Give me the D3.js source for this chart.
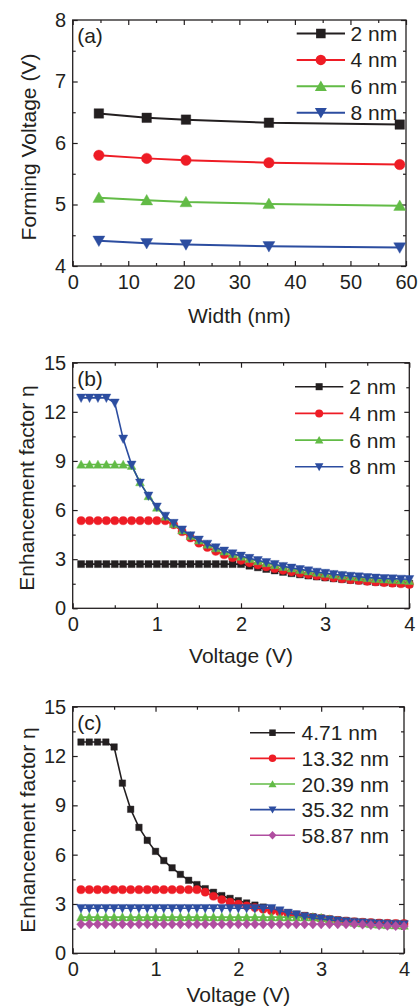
<!DOCTYPE html>
<html>
<head>
<meta charset="utf-8">
<script src="https://cdn.jsdelivr.net/npm/d3@7/dist/d3.min.js"></script>
<style>
  html, body { margin: 0; padding: 0; background: #fff; }
  svg { display: block; }
  text { font-family: "Liberation Sans", Arial, sans-serif; fill: #231f20; }
</style>
</head>
<body>
<svg id="chart" width="420" height="1008"></svg>
<script>
// ---------- data ----------
// (a) forming voltage versus filament width for four thicknesses
const widths = [4.71, 13.32, 20.39, 35.32, 58.87];
const thicknessLabels = ["2 nm", "4 nm", "6 nm", "8 nm"];
const forming2nm = [6.48, 6.41, 6.38, 6.33, 6.30];
const forming4nm = [5.80, 5.75, 5.72, 5.68, 5.65];
const forming6nm = [5.11, 5.07, 5.04, 5.01, 4.98];
const forming8nm = [4.41, 4.37, 4.35, 4.32, 4.30];

// (b), (c) enhancement factor versus applied voltage
const voltage = [0.1, 0.2, 0.3, 0.4, 0.5, 0.6, 0.7, 0.8, 0.9, 1.0,
                 1.1, 1.2, 1.3, 1.4, 1.5, 1.6, 1.7, 1.8, 1.9, 2.0,
                 2.1, 2.2, 2.3, 2.4, 2.5, 2.6, 2.7, 2.8, 2.9, 3.0,
                 3.1, 3.2, 3.3, 3.4, 3.5, 3.6, 3.7, 3.8, 3.9, 4.0];

// (b) different thicknesses
const etaT2 = [2.7, 2.7, 2.7, 2.7, 2.7, 2.7, 2.7, 2.7, 2.7, 2.7,
               2.7, 2.7, 2.7, 2.7, 2.7, 2.7, 2.7, 2.7, 2.7, 2.7,
               2.6, 2.5, 2.4, 2.31, 2.22, 2.14, 2.07, 2.0, 1.94, 1.88,
               1.83, 1.78, 1.73, 1.69, 1.65, 1.61, 1.58, 1.55, 1.52, 1.5];
const etaT4 = [5.35, 5.35, 5.35, 5.35, 5.35, 5.35, 5.35, 5.35, 5.35, 5.35,
               5.35, 5.1, 4.68, 4.3, 3.98, 3.72, 3.48, 3.27, 3.09, 2.93,
               2.78, 2.65, 2.53, 2.42, 2.32, 2.23, 2.14, 2.06, 1.99, 1.92,
               1.86, 1.8, 1.75, 1.7, 1.65, 1.61, 1.57, 1.53, 1.5, 1.46];
const etaT6 = [8.78, 8.78, 8.78, 8.78, 8.78, 8.78, 8.7, 7.7, 6.85, 6.15,
               5.6, 5.15, 4.76, 4.42, 4.14, 3.89, 3.67, 3.47, 3.3, 3.15,
               3.01, 2.88, 2.76, 2.64, 2.53, 2.43, 2.34, 2.26, 2.18, 2.11,
               2.05, 1.99, 1.94, 1.89, 1.84, 1.8, 1.76, 1.73, 1.7, 1.67];
const etaT8 = [12.85, 12.85, 12.85, 12.85, 12.55, 10.35, 8.76, 7.66, 6.87, 6.2,
               5.64, 5.2, 4.8, 4.44, 4.18, 3.93, 3.71, 3.51, 3.34, 3.2,
               3.06, 2.93, 2.81, 2.69, 2.57, 2.47, 2.38, 2.3, 2.22, 2.15,
               2.08, 2.02, 1.97, 1.93, 1.89, 1.86, 1.83, 1.81, 1.79, 1.77];

// (c) different widths
const widthLabels = ["4.71 nm", "13.32 nm", "20.39 nm", "35.32 nm", "58.87 nm"];
const etaW471 = [12.85, 12.85, 12.85, 12.85, 12.55, 10.35, 8.76, 7.66, 6.87, 6.2,
                 5.64, 5.2, 4.8, 4.44, 4.18, 3.93, 3.71, 3.51, 3.34, 3.2,
                 3.06, 2.93, 2.81, 2.69, 2.57, 2.47, 2.38, 2.3, 2.22, 2.15,
                 2.09, 2.03, 1.99, 1.95, 1.91, 1.89, 1.86, 1.84, 1.83, 1.82];
const etaW1332 = [3.87, 3.87, 3.87, 3.87, 3.87, 3.87, 3.87, 3.87, 3.87, 3.87,
                  3.87, 3.87, 3.87, 3.87, 3.87, 3.72, 3.47, 3.26, 3.11, 2.99,
                  2.88, 2.78, 2.68, 2.58, 2.49, 2.4, 2.32, 2.24, 2.17, 2.11,
                  2.05, 2.0, 1.96, 1.92, 1.89, 1.86, 1.84, 1.82, 1.81, 1.8];
const etaW2039 = [2.2, 2.2, 2.2, 2.2, 2.2, 2.2, 2.2, 2.2, 2.2, 2.2,
                  2.2, 2.2, 2.2, 2.2, 2.2, 2.2, 2.2, 2.2, 2.2, 2.2,
                  2.2, 2.2, 2.2, 2.2, 2.2, 2.2, 2.2, 2.2, 2.2, 2.15,
                  2.06, 1.98, 1.92, 1.87, 1.83, 1.79, 1.76, 1.73, 1.71, 1.69];
const etaW3532 = [2.74, 2.74, 2.74, 2.74, 2.74, 2.74, 2.74, 2.74, 2.74, 2.74,
                  2.74, 2.74, 2.74, 2.74, 2.74, 2.74, 2.74, 2.74, 2.74, 2.74,
                  2.74, 2.74, 2.74, 2.74, 2.6, 2.45, 2.35, 2.24, 2.16, 2.09,
                  2.03, 1.98, 1.93, 1.89, 1.86, 1.83, 1.8, 1.78, 1.76, 1.75];
const etaW5887 = [1.77, 1.77, 1.77, 1.77, 1.77, 1.77, 1.77, 1.77, 1.77, 1.77,
                  1.77, 1.77, 1.77, 1.77, 1.77, 1.77, 1.77, 1.77, 1.77, 1.77,
                  1.77, 1.77, 1.77, 1.77, 1.77, 1.77, 1.77, 1.77, 1.77, 1.77,
                  1.77, 1.77, 1.77, 1.77, 1.75, 1.72, 1.7, 1.68, 1.66, 1.65];

// axis ticks
const ticksAx = [0, 10, 20, 30, 40, 50, 60];
const ticksAy = [4, 5, 6, 7, 8];
const ticksVx = [0, 1, 2, 3, 4];
const ticksEy = [0, 3, 6, 9, 12, 15];

// ---------- styles ----------
const COL = { black: "#231f20", red: "#ee1c25", green: "#62bb46", blue: "#2c4da0", magenta: "#b04ea0" };

function markerPath(shape, w, h) {
  const a = w / 2, b = h / 2;
  switch (shape) {
    case "square": return `M${-a},${-a}h${w}v${w}h${-w}Z`;
    case "circle": return `M${a},0A${a},${a} 0 1,1 ${-a},0A${a},${a} 0 1,1 ${a},0Z`;
    case "up": return `M0,${-0.55 * h}L${a},${0.45 * h}L${-a},${0.45 * h}Z`;
    case "down": return `M0,${0.55 * h}L${a},${-0.45 * h}L${-a},${-0.45 * h}Z`;
    case "diamond": return `M0,${-b}L${a},0L0,${b}L${-a},0Z`;
  }
}

const svg = d3.select("#chart");
svg.append("rect").attr("width", 420).attr("height", 1008).attr("fill", "#fff");

function range2(a, b, step) { const out = []; for (let v = a; v <= b + 1e-9; v += step) out.push(+v.toFixed(4)); return out; }

function drawPanel(p) {
  const g = svg.append("g");
  const x = d3.scaleLinear().domain(p.xDomain).range([p.left, p.right]);
  const y = d3.scaleLinear().domain(p.yDomain).range([p.bottom, p.top]);

  const minorX = range2(p.xDomain[0], p.xDomain[1], p.xMinor).filter(v => !p.xTicks.includes(v));
  const minorY = range2(p.yDomain[0], p.yDomain[1], p.yMinor).filter(v => !p.yTicks.includes(v));

  const styleAxis = sel => {
    sel.select(".domain").remove();
    sel.selectAll("line").attr("stroke", "#231f20").attr("stroke-width", 1.2);
  };
  const styleLabels = sel => sel.selectAll("text").attr("font-size", 20).attr("fill", "#231f20")
    .attr("font-family", "Liberation Sans, Arial, sans-serif");

  // bottom
  g.append("g").attr("transform", `translate(0,${p.bottom})`)
    .call(d3.axisBottom(x).tickValues(p.xTicks).tickSize(-5).tickPadding(9).tickFormat(d3.format("d")))
    .call(styleAxis).call(styleLabels);
  g.append("g").attr("transform", `translate(0,${p.bottom})`)
    .call(d3.axisBottom(x).tickValues(minorX).tickSize(-3).tickFormat(""))
    .call(styleAxis);
  // top
  g.append("g").attr("transform", `translate(0,${p.top})`)
    .call(d3.axisTop(x).tickValues(p.xTicks).tickSize(-5).tickFormat(""))
    .call(styleAxis);
  g.append("g").attr("transform", `translate(0,${p.top})`)
    .call(d3.axisTop(x).tickValues(minorX).tickSize(-3).tickFormat(""))
    .call(styleAxis);
  // left
  g.append("g").attr("transform", `translate(${p.left},0)`)
    .call(d3.axisLeft(y).tickValues(p.yTicks).tickSize(-5).tickPadding(6.5).tickFormat(d3.format("d")))
    .call(styleAxis).call(styleLabels);
  g.append("g").attr("transform", `translate(${p.left},0)`)
    .call(d3.axisLeft(y).tickValues(minorY).tickSize(-3).tickFormat(""))
    .call(styleAxis);
  // right
  g.append("g").attr("transform", `translate(${p.right},0)`)
    .call(d3.axisRight(y).tickValues(p.yTicks).tickSize(-5).tickFormat(""))
    .call(styleAxis);
  g.append("g").attr("transform", `translate(${p.right},0)`)
    .call(d3.axisRight(y).tickValues(minorY).tickSize(-3).tickFormat(""))
    .call(styleAxis);

  // frame
  g.append("rect").attr("x", p.left).attr("y", p.top)
    .attr("width", p.right - p.left).attr("height", p.bottom - p.top)
    .attr("fill", "none").attr("stroke", "#231f20").attr("stroke-width", 1.3);

  // series: connecting line plus markers
  const line = d3.line().x(d => x(d[0])).y(d => y(d[1]));
  p.series.forEach(s => {
    const pts = p.xValues.map((v, i) => [v, s.values[i]]);
    const sg = g.append("g");
    sg.append("path").attr("d", line(pts)).attr("fill", "none")
      .attr("stroke", s.color).attr("stroke-width", p.lineWidth);
    sg.selectAll("path.m").data(pts).join("path").attr("class", "m")
      .attr("transform", d => `translate(${x(d[0])},${y(d[1])})`)
      .attr("d", markerPath(s.shape, s.w, s.h))
      .attr("fill", s.color).attr("stroke", s.color).attr("stroke-width", 0.4);
  });

  // legend
  p.series.forEach((s, i) => {
    const ly = p.legend.y0 + i * p.legend.dy;
    g.append("line").attr("x1", p.legend.x1).attr("x2", p.legend.x2)
      .attr("y1", ly).attr("y2", ly).attr("stroke", s.color).attr("stroke-width", p.lineWidth);
    g.append("path").attr("transform", `translate(${(p.legend.x1 + p.legend.x2) / 2},${ly})`)
      .attr("d", markerPath(s.shape, s.lw, s.lh)).attr("fill", s.color);
    g.append("text").attr("x", p.legend.tx).attr("y", ly).attr("dy", "0.36em")
      .attr("font-size", 21).text(s.label);
  });

  // panel tag
  g.append("text").attr("x", p.left + 4.5).attr("y", p.tagY).attr("font-size", 21).text(p.tag);

  // axis titles
  g.append("text").attr("x", (p.left + p.right) / 2).attr("y", p.bottom + p.xTitleOff)
    .attr("text-anchor", "middle").attr("font-size", 21).text(p.xTitle);
  g.append("text").attr("transform", `translate(${p.yTitleX},${(p.top + p.bottom) / 2 + p.yTitleShift}) rotate(-90)`)
    .attr("text-anchor", "middle").attr("font-size", 21).text(p.yTitle);
}

// (a)
drawPanel({
  left: 72.7, right: 406, top: 20, bottom: 266,
  xDomain: [0, 60], yDomain: [4, 8], xTicks: ticksAx, yTicks: ticksAy, xMinor: 5, yMinor: 0.5,
  xValues: widths, lineWidth: 2,
  series: [
    { label: thicknessLabels[0], values: forming2nm, color: COL.black, shape: "square", w: 9.5, h: 9.5, lw: 9.5, lh: 9.5 },
    { label: thicknessLabels[1], values: forming4nm, color: COL.red, shape: "circle", w: 10.5, h: 10.5, lw: 10.5, lh: 10.5 },
    { label: thicknessLabels[2], values: forming6nm, color: COL.green, shape: "up", w: 12, h: 10.5, lw: 12, lh: 10.5 },
    { label: thicknessLabels[3], values: forming8nm, color: COL.blue, shape: "down", w: 12, h: 10.5, lw: 12, lh: 10.5 }
  ],
  legend: { x1: 296.7, x2: 345, tx: 350.5, y0: 33.5, dy: 26.4 },
  tag: "(a)", tagY: 42.5,
  xTitle: "Width (nm)", xTitleOff: 56.5,
  yTitle: "Forming Voltage (V)", yTitleX: 35.5, yTitleShift: 4
});

// (b)
drawPanel({
  left: 72.7, right: 409.3, top: 362.7, bottom: 608.3,
  xDomain: [0, 4], yDomain: [0, 15], xTicks: ticksVx, yTicks: ticksEy, xMinor: 0.5, yMinor: 1.5,
  xValues: voltage, lineWidth: 1.6,
  series: [
    { label: thicknessLabels[0], values: etaT2, color: COL.black, shape: "square", w: 7, h: 7, lw: 7, lh: 7 },
    { label: thicknessLabels[1], values: etaT4, color: COL.red, shape: "circle", w: 8.2, h: 8.2, lw: 8, lh: 8 },
    { label: thicknessLabels[2], values: etaT6, color: COL.green, shape: "up", w: 8.8, h: 8, lw: 8.5, lh: 7.5 },
    { label: thicknessLabels[3], values: etaT8, color: COL.blue, shape: "down", w: 9, h: 8.5, lw: 8.5, lh: 8 }
  ],
  legend: { x1: 295, x2: 343.3, tx: 349.3, y0: 386.7, dy: 26.7 },
  tag: "(b)", tagY: 386,
  xTitle: "Voltage (V)", xTitleOff: 55,
  yTitle: "Enhancement factor η", yTitleX: 33.5, yTitleShift: 2.5
});

// (c)
drawPanel({
  left: 72.7, right: 404, top: 706.7, bottom: 953.3,
  xDomain: [0, 4], yDomain: [0, 15], xTicks: ticksVx, yTicks: ticksEy, xMinor: 0.5, yMinor: 1.5,
  xValues: voltage, lineWidth: 1.6,
  series: [
    { label: widthLabels[0], values: etaW471, color: COL.black, shape: "square", w: 6.5, h: 6.5, lw: 6.5, lh: 6.5 },
    { label: widthLabels[1], values: etaW1332, color: COL.red, shape: "circle", w: 8.2, h: 8.2, lw: 7.5, lh: 7.5 },
    { label: widthLabels[2], values: etaW2039, color: COL.green, shape: "up", w: 8.8, h: 8.5, lw: 8, lh: 7 },
    { label: widthLabels[3], values: etaW3532, color: COL.blue, shape: "down", w: 8.8, h: 8.5, lw: 8, lh: 7 },
    { label: widthLabels[4], values: etaW5887, color: COL.magenta, shape: "diamond", w: 8.6, h: 9.5, lw: 8, lh: 8.5 }
  ],
  legend: { x1: 250, x2: 295, tx: 301.5, y0: 732.7, dy: 25.65 },
  tag: "(c)", tagY: 730,
  xTitle: "Voltage (V)", xTitleOff: 49,
  yTitle: "Enhancement factor η", yTitleX: 34.5, yTitleShift: 0
});
</script>
</body>
</html>
